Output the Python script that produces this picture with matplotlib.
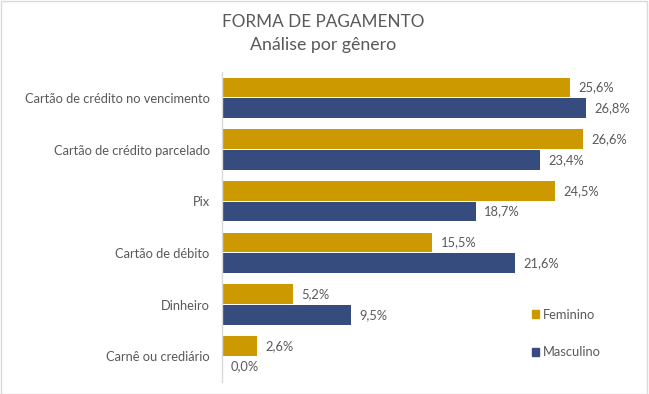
import matplotlib
matplotlib.use("Agg")
import matplotlib.pyplot as plt
from matplotlib.patches import Patch, Rectangle
import numpy as np

categorias = [
    "Cartão de crédito no vencimento",
    "Cartão de crédito parcelado",
    "Pix",
    "Cartão de débito",
    "Dinheiro",
    "Carnê ou crediário",
]
feminino = [25.6, 26.6, 24.5, 15.5, 5.2, 2.6]
masculino = [26.8, 23.4, 18.7, 21.6, 9.5, 0.0]

cor_fem = "#CC9A00"
cor_masc = "#364B7E"
cinza = "#595959"

plt.rcParams["font.family"] = ["Lato", "DejaVu Sans"]

W, H = 649, 394
fig = plt.figure(figsize=(W / 100, H / 100), dpi=100)
fig.patch.set_facecolor("white")

# axes placed in pixel terms: left edge at x=222, from y=72 to y=382
ax = fig.add_axes([222 / W, (H - 382) / H, 401 / W, 310 / H])

y = np.arange(len(categorias))
h = 0.38
b1 = ax.barh(y - 0.2, feminino, height=h, color=cor_fem, label="Feminino")
b2 = ax.barh(y + 0.2, masculino, height=h, color=cor_masc, label="Masculino")

for bars, vals in ((b1, feminino), (b2, masculino)):
    for bar, v in zip(bars, vals):
        ax.annotate(f"{v:.1f}%".replace(".", ","),
                    (bar.get_width(), bar.get_y() + bar.get_height() / 2),
                    xytext=(6, 0), textcoords="offset points",
                    ha="left", va="center", fontsize=9.3, color=cinza)

ax.set_xlim(0, 29.53)
ax.set_ylim(len(categorias) - 0.5, -0.5)
ax.set_yticks(y)
ax.set_yticklabels(categorias, fontsize=9.3, color=cinza)
ax.tick_params(axis="y", length=0, pad=9)
ax.set_xticks([])
for s in ("top", "right", "bottom"):
    ax.spines[s].set_visible(False)
ax.spines["left"].set_color("#D9D9D9")
ax.spines["left"].set_linewidth(1)

fig.text(323 / W, 1 - 22 / H, "FORMA DE PAGAMENTO", ha="center", va="center",
         fontsize=12.3, color=cinza)
fig.text(323 / W, 1 - 45 / H, "Análise por gênero", ha="center", va="center",
         fontsize=12.8, color=cinza)

handles = [Patch(color=cor_fem, label="Feminino"),
           Patch(color=cor_masc, label="Masculino")]
fig.legend(handles=handles, loc="upper left", bbox_to_anchor=(520 / W, 1 - 297 / H),
           frameon=False, fontsize=9.3, labelcolor=cinza,
           handlelength=0.6, handleheight=0.6, handletextpad=0.3, labelspacing=2.0)

fig.patches.append(Rectangle((0.5 / W, 0.5 / H), 646 / W, (H - 1.5) / H,
                             transform=fig.transFigure, fill=False,
                             edgecolor="#D9D9D9", linewidth=1))

fig.savefig("out.png", dpi=100)
